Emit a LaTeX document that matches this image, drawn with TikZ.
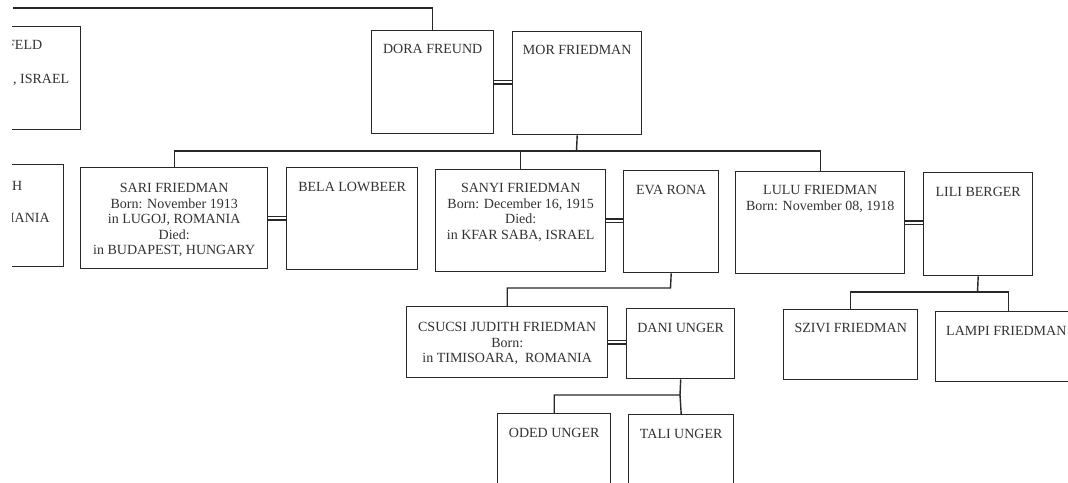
\documentclass[tikz,border=0pt]{standalone}
\usepackage{fontspec}
\setmainfont{Liberation Serif}
\definecolor{ink}{RGB}{40,40,40}
\definecolor{txt}{RGB}{50,50,50}
\tikzset{
  pbox/.style={draw=ink, rectangle, line width=1.4pt, inner sep=0pt, anchor=north west},
  lbl/.style={anchor=base, inner sep=0pt, align=center, text=txt, font=\fontsize{14}{15.5}\selectfont},
  lblm/.style={anchor=north, inner sep=0pt, align=center, text=txt, font=\fontsize{14}{15.5}\selectfont},
  lblw/.style={anchor=base west, inner sep=0pt, align=left, text=txt, font=\fontsize{14}{15.5}\selectfont},
  conn/.style={draw=ink, line width=1.4pt},
  marr/.style={draw=ink, double=white, line width=1.2pt, double distance=2.4pt}
}
\newcommand{\pbox}[5]{\node[pbox, minimum width={((#4)-(#2))*1pt}, minimum height={((#5)-(#3))*1pt}] (#1) at (#2,#3) {};}
\begin{document}
\begin{tikzpicture}[x=1pt,y=-1pt]
\useasboundingbox (0,0) rectangle (1068,482);
\fill[white] (0,0) rectangle (1068,482);
\clip (12,0) rectangle (1068,482);
% boxes
\pbox{leftA}{-60}{26}{80}{129}
\pbox{leftB}{-60}{164}{63}{266}
\pbox{dora}{371}{30}{493}{133}
\pbox{mor}{512}{31}{641}{134}
\pbox{sari}{80}{167}{267}{268}
\pbox{bela}{286}{167}{417}{269}
\pbox{sanyi}{435}{169}{605}{271}
\pbox{eva}{623}{170}{718}{272}
\pbox{lulu}{735}{171}{904}{273}
\pbox{lili}{923}{172}{1032}{275}
\pbox{csucsi}{406}{306}{607}{377}
\pbox{dani}{626}{308}{734}{378}
\pbox{oded}{497}{413}{610}{500}
\pbox{tali}{628}{414}{733}{500}
\pbox{szivi}{783}{309}{917}{379}
\pbox{lampi}{935}{311}{1081}{381}
% texts
\node[lblw] (leftAt1) at (7,49) {FELD};
\node[lblw] (leftAt2) at (13,83) {, ISRAEL};
\node[lblw] (leftBt1) at (12,190) {H};
\node[lblw] (leftBt2) at (2,222) {MANIA};
\node[lbl] (doraT) at ([yshift=-23.5pt]dora.north) {DORA FREUND};
\node[lbl] (morT) at ([yshift=-23.5pt]mor.north) {MOR FRIEDMAN};
\node[lblm] (sariT) at ([yshift=-16.5pt]sari.north) {SARI FRIEDMAN\\Born: November 1913\\in LUGOJ, ROMANIA\\Died:\\in BUDAPEST, HUNGARY};
\node[lbl] (belaT) at ([yshift=-24.5pt]bela.north) {BELA LOWBEER};
\node[lblm] (sanyiT) at ([yshift=-14.5pt]sanyi.north) {SANYI FRIEDMAN\\Born: December 16, 1915\\Died:\\in KFAR SABA, ISRAEL};
\node[lbl] (evaT) at ([yshift=-24.5pt]eva.north) {EVA RONA};
\node[lblm] (luluT) at ([yshift=-14.5pt]lulu.north) {LULU FRIEDMAN\\Born: November 08, 1918};
\node[lbl] (liliT) at ([yshift=-24.5pt]lili.north) {LILI BERGER};
\node[lblm] (csucsiT) at ([yshift=-16.5pt]csucsi.north) {CSUCSI JUDITH FRIEDMAN\\Born:\\in TIMISOARA,\ \ ROMANIA};
\node[lbl] (daniT) at ([yshift=-24.5pt]dani.north) {DANI UNGER};
\node[lbl] (odedT) at ([yshift=-24.5pt]oded.north) {ODED UNGER};
\node[lbl] (taliT) at ([yshift=-24.5pt]tali.north) {TALI UNGER};
\node[lbl] (sziviT) at ([yshift=-23.5pt]szivi.north) {SZIVI FRIEDMAN};
\node[lbl, anchor=base west] (lampiT) at (946,335) {LAMPI FRIEDMAN};
% connectors
\coordinate (topL) at (13,8);
\draw[conn] (topL) -| (dora.north);
\coordinate (bar1) at (576.5,151);
\draw[conn] (mor.south) -- (bar1);
\draw[conn] (bar1) -| (sari.north);
\draw[conn] (bar1) -| (sanyi.north);
\draw[conn] (bar1) -| (lulu.north);
\coordinate (bar2) at (670.5,288);
\draw[conn] (eva.south) -- (bar2) -| (csucsi.north);
\coordinate (bar3) at (977.5,292);
\draw[conn] (lili.south) -- (bar3);
\draw[conn] (bar3) -| (szivi.north);
\draw[conn] (bar3) -| (lampi.north);
\coordinate (bar4) at (680,395);
\draw[conn] (dani.south) -- (bar4) -| (oded.north);
\draw[conn] (bar4) -- (tali.north);
% marriages
\draw[marr] (dora.east) -- (dora.east -| mor.west);
\draw[marr] (sari.east) -- (sari.east -| bela.west);
\draw[marr] (sanyi.east) -- (sanyi.east -| eva.west);
\draw[marr] (lulu.east) -- (lulu.east -| lili.west);
\draw[marr] (csucsi.east) -- (csucsi.east -| dani.west);
\end{tikzpicture}
\end{document}
